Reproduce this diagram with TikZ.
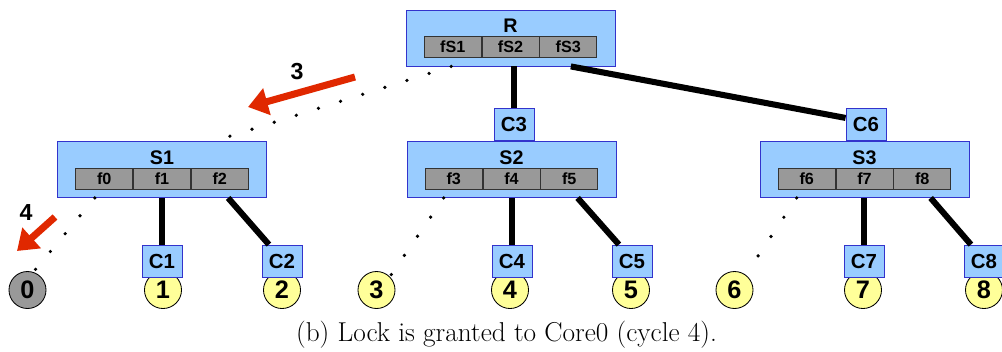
\documentclass[tikz,border=0pt]{standalone}
\usepackage{fontspec}
\newfontfamily\arialfont{Liberation Sans}
\usetikzlibrary{positioning}
\usetikzlibrary{calc,arrows.meta}
\definecolor{boxblue}{HTML}{99CCFF}
\definecolor{boxedge}{HTML}{3333CC}
\definecolor{fieldgray}{HTML}{999999}
\definecolor{coreyellow}{HTML}{FFFF99}
\definecolor{arrowred}{HTML}{E02800}
\tikzstyle{swbox}=[draw=boxedge, fill=boxblue, line width=0.6pt, minimum width=5.225cm, minimum height=1.4cm, inner sep=0pt]
\tikzstyle{boxlbl}=[anchor=center, yshift=-0.41cm, font=\arialfont\bfseries\fontsize{14}{16}\selectfont]
\tikzstyle{field}=[draw=black!80, fill=fieldgray, line width=0.5pt, minimum width=1.425cm, minimum height=0.53cm, inner sep=0pt, font=\arialfont\bfseries\fontsize{11.5}{13}\selectfont]
\tikzstyle{cbox}=[draw=boxedge, fill=boxblue, line width=0.6pt, minimum width=1cm, minimum height=0.8cm, inner sep=0pt, font=\arialfont\bfseries\fontsize{14.5}{16}\selectfont]
\tikzstyle{core}=[draw, circle, fill=coreyellow, line width=0.6pt, minimum size=0.925cm, inner sep=0pt, font=\arialfont\bfseries\fontsize{18}{20}\selectfont]
\tikzstyle{link}=[line width=4.3pt]
\tikzstyle{trail}=[line width=2.6pt, line cap=round, dash pattern=on 0pt off 16.5pt]
\tikzstyle{move}=[arrowred, line width=5pt, -{Triangle[length=14pt, width=19pt]}]
\tikzstyle{steplbl}=[font=\arialfont\bfseries\fontsize{16.5}{18}\selectfont]

\begin{document}
\begin{tikzpicture}[x=0.025cm, y=-0.025cm]
    \useasboundingbox (0,0) rectangle (1002,351);

    % tree of switches
    \node[swbox, label={[boxlbl]north:R}] (R) at (510.5,38) {};
    \node[field] (fS2) at ($(R.north)+(0,37.5)$) {fS2};
    \node[field, left=0pt of fS2] (fS1) {fS1};
    \node[field, right=0pt of fS2] (fS3) {fS3};

    \node[swbox, label={[boxlbl]north:S1}] (S1) at (162,169.5) {};
    \node[field] (f1) at ($(S1.north)+(0,37.5)$) {f1};
    \node[field, left=0pt of f1] (f0) {f0};
    \node[field, right=0pt of f1] (f2) {f2};

    \node[swbox, label={[boxlbl]north:S2}] (S2) at (511.5,169.5) {};
    \node[field] (f4) at ($(S2.north)+(0,37.5)$) {f4};
    \node[field, left=0pt of f4] (f3) {f3};
    \node[field, right=0pt of f4] (f5) {f5};

    \node[swbox, label={[boxlbl]north:S3}] (S3) at (864.5,169.5) {};
    \node[field] (f7) at ($(S3.north)+(0,37.5)$) {f7};
    \node[field, left=0pt of f7] (f6) {f6};
    \node[field, right=0pt of f7] (f8) {f8};

    \node[cbox] (C3) at (514,124.5) {C3};
    \node[cbox] (C6) at (866,124.5) {C6};

    % cores
    \node[core, fill=fieldgray] (core0) at (27.5,290) {0};
    \node[core] (core1) at (163,290) {1};
    \node[core] (core2) at (282,290) {2};
    \node[core] (core3) at (376.5,290) {3};
    \node[core] (core4) at (510,290) {4};
    \node[core] (core5) at (631,290) {5};
    \node[core] (core6) at (734.5,290) {6};
    \node[core] (core7) at (863,290) {7};
    \node[core] (core8) at (984,290) {8};

    \node[cbox] (C1) at (162,261) {C1};
    \node[cbox] (C2) at (282,261) {C2};
    \node[cbox] (C4) at (512,261) {C4};
    \node[cbox] (C5) at (632,261) {C5};
    \node[cbox] (C7) at (864,261) {C7};
    \node[cbox] (C8) at (984,261) {C8};

    \draw[link] (R.south -| C3) -- (C3.north);
    \draw[link] ($(R.south)!0.575!(R.south east)$) -- ($(C6.north west)!0.3!(C6.south west)$);
    \draw[link] (S1.south -| C1) -- (C1.north);
    \draw[link] ($(S1.south)!0.63!(S1.south east)$) -- ($(C2.north west)!0.18!(C2.north east)$);
    \draw[link] (S2.south -| C4) -- (C4.north);
    \draw[link] ($(S2.south)!0.63!(S2.south east)$) -- ($(C5.north west)!0.18!(C5.north east)$);
    \draw[link] (S3.south -| C7) -- (C7.north);
    \draw[link] ($(S3.south)!0.63!(S3.south east)$) -- ($(C8.north west)!0.18!(C8.north east)$);

    % path the lock took
    \draw[trail] ($(R.south west)!0.435!(R.south)$) -- ($(S1.north)!0.5!(S1.north east)$);
    \draw[trail] ($(S1.south west)!0.36!(S1.south)$) -- (core0.72);
    \draw[trail] ($(S2.south west)!0.354!(S2.south)$) -- (core3.45);
    \draw[trail] ($(S3.south west)!0.354!(S3.south)$) -- (core6.54);

    \coordinate (m3a) at (355,77);
    \coordinate (m3b) at (248,107);
    \coordinate (m4a) at (55,217);
    \coordinate (m4b) at (17,251);
    \draw[move] (m3a) -- (m3b);
    \draw[move] (m4a) -- (m4b);
    \node[steplbl] (n3) at (297,72) {3};
    \node[steplbl] (n4) at (26,213) {4};

    \node[anchor=base, font=\fontsize{19.4}{21}\selectfont] (cap) at (506.5,341) {(b) Lock is granted to Core0 (cycle 4).};
\end{tikzpicture}
\end{document}
